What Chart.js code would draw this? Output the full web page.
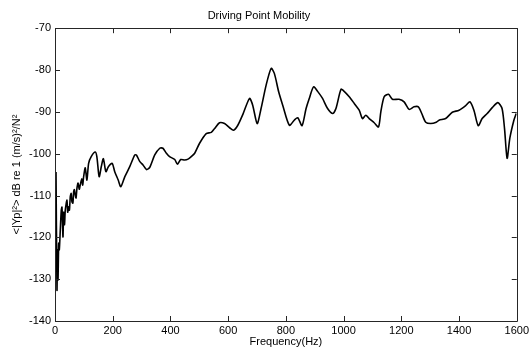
<!DOCTYPE html>
<html>
<head>
<meta charset="utf-8">
<script src="https://cdn.jsdelivr.net/npm/chart.js@4.4.1/dist/chart.umd.min.js"></script>
<style>
html,body{margin:0;padding:0;background:#fff;}
#wrap{width:532px;height:349px;}
</style>
</head>
<body>
<div id="wrap"><canvas id="c" width="532" height="349"></canvas></div>
<script>
// Frequency (Hz)
const freqHz = [
  3.5, 6.9, 8.6, 10.4, 12.8, 14.9, 18.3, 21.8, 24.2, 27.6, 30, 33, 35.6, 41.5, 44, 47.3, 50, 52.9, 56, 58.8,
  62, 64.6, 67, 70.2, 73, 76, 80, 84, 87.4, 93, 96, 99.2, 104.7, 110.6, 116.5, 125.5, 139.3, 145, 153, 160.7,
  167.6, 176.3, 185, 198, 207, 219, 228, 242, 259, 276.5, 282, 294, 305, 317, 328, 345.6, 363, 374, 386, 397,
  415, 424, 435.5, 449, 461, 472, 484, 501, 524, 541.5, 553, 570, 587.5, 605, 618.6, 633.5, 651, 674, 685, 700.5,
  714, 731.6, 749, 760, 775, 789, 812, 829, 841, 856, 870, 881, 896, 910, 927, 944.5, 962, 973.5, 991, 1002,
  1019.5, 1037, 1054, 1065.5, 1077, 1088.6, 1106, 1121, 1129, 1140.5, 1155.5, 1169, 1192, 1209.6, 1227, 1244, 1259, 1270.7, 1284.6, 1302,
  1321, 1330.6, 1353.7, 1376.6, 1400, 1423, 1437.7, 1451.5, 1466.4, 1480, 1497.5, 1515, 1534.5, 1549, 1557.6, 1566.6, 1576, 1590, 1598
];
// <|Yp|^2> in dB re 1 (m/s)^2/N^2
const mobilityDb = [
  -104.4, -132.6, -123, -130.2, -121.4, -123, -118.3, -113.5, -112.8, -119.9, -114, -117, -113.5, -111.1, -114, -112.7, -113.5, -110.3, -109.5, -111.5,
  -111.8, -109.1, -108.6, -109.9, -110.6, -108.3, -107, -108.5, -107.5, -106, -107.5, -105.5, -103.4, -106.3, -102.3, -100.7, -99.6, -100.7, -105.5, -103,
  -101.2, -104.3, -103.1, -102.3, -104.3, -106.3, -107.9, -105.5, -103.1, -100.3, -100.3, -101.9, -102.7, -103.8, -103.3, -100.3, -98.7, -98.7, -99.9, -100.7,
  -101.4, -102.5, -101.4, -101.5, -101.3, -100.7, -99.9, -97.5, -95.2, -94.9, -94, -92.6, -92.8, -93.8, -94.4, -93.2, -90.6, -86.8, -88.4, -92.8,
  -89.2, -83.6, -79.6, -80.8, -85.2, -88.4, -93.2, -92, -91.4, -93.3, -89.2, -86.8, -84, -85.1, -86.8, -89.2, -90.4, -89.2, -84.6, -85.1,
  -86.4, -88, -89.6, -91.6, -90.8, -91.6, -92.6, -93.6, -90, -86.4, -85.8, -87, -87, -87.6, -89.4, -88.8, -88.8, -90.4, -92.5, -92.8,
  -92.5, -92, -91.6, -90.1, -89.6, -88.5, -87.6, -89.6, -93.3, -91.6, -90.4, -89, -87.8, -89.2, -94, -101.1, -96.3, -92, -90.4
];
const xTicks = [0, 200, 400, 600, 800, 1000, 1200, 1400, 1600];
const yTicks = [-140, -130, -120, -110, -100, -90, -80, -70];

const titleText = 'Driving Point Mobility';
const xTitle = 'Frequency(Hz)';
const yTitle = '<|Yp|\u00B2> dB re 1 (m/s)\u00B2/N\u00B2';

const points = freqHz.map((f, i) => ({x: f, y: mobilityDb[i]}));
const FONT = 'Liberation Sans, Arial, Helvetica, sans-serif';
const AXIS_COLOR = '#262626';

const boxTicks = {
  id: 'boxTicks',
  afterDraw(chart) {
    const {ctx, chartArea: a, scales} = chart;
    const L = 5;
    ctx.save();
    ctx.strokeStyle = AXIS_COLOR;
    ctx.lineWidth = 1;
    ctx.beginPath();
    ctx.rect(Math.round(a.left) + 0.5, Math.round(a.top) + 0.5,
             Math.round(a.right - a.left), Math.round(a.bottom - a.top));
    scales.x.ticks.forEach(t => {
      const px = Math.round(scales.x.getPixelForValue(t.value)) + 0.5;
      ctx.moveTo(px, a.bottom); ctx.lineTo(px, a.bottom - L);
      ctx.moveTo(px, a.top); ctx.lineTo(px, a.top + L);
    });
    scales.y.ticks.forEach(t => {
      const py = Math.round(scales.y.getPixelForValue(t.value)) + 0.5;
      ctx.moveTo(a.left, py); ctx.lineTo(a.left + L, py);
      ctx.moveTo(a.right, py); ctx.lineTo(a.right - L, py);
    });
    ctx.stroke();
    ctx.restore();
  }
};

new Chart(document.getElementById('c'), {
  type: 'scatter',
  data: {
    datasets: [{
      data: points,
      showLine: true,
      borderColor: '#000',
      borderWidth: 1.6,
      pointRadius: 0,
      tension: 0.25,
      fill: false
    }]
  },
  options: {
    responsive: false,
    animation: false,
    devicePixelRatio: 1,
    layout: {padding: {left: 0, right: 14, top: 0, bottom: 0}},
    plugins: {
      legend: {display: false},
      tooltip: {enabled: false},
      title: {
        display: true,
        text: titleText,
        color: '#000',
        font: {family: FONT, size: 11, weight: 'normal', lineHeight: 1.2},
        padding: {top: 9, bottom: 6}
      }
    },
    scales: {
      x: {
        type: 'linear',
        min: 0, max: 1600,
        afterBuildTicks: s => { s.ticks = xTicks.map(v => ({value: v})); },
        afterFit: s => { s.height = 28; },
        grid: {display: false, drawTicks: false},
        border: {display: false},
        ticks: {color: '#000', font: {family: FONT, size: 11}, padding: 3, maxRotation: 0, autoSkip: false,
                callback: v => String(v)},
        title: {display: true, text: xTitle, color: '#000', font: {family: FONT, size: 11, lineHeight: 1.2}, padding: {top: 0, bottom: 0}}
      },
      y: {
        type: 'linear',
        min: -140, max: -70,
        afterBuildTicks: s => { s.ticks = yTicks.map(v => ({value: v})); },
        afterFit: s => { s.width = 55; },
        grid: {display: false, drawTicks: false},
        border: {display: false},
        ticks: {color: '#000', font: {family: FONT, size: 11}, padding: 4, autoSkip: false,
                callback: v => String(v)},
        title: {display: true, text: yTitle, color: '#000', font: {family: FONT, size: 11, lineHeight: 1.2}, padding: {top: 10, bottom: 0}}
      }
    }
  },
  plugins: [boxTicks]
});
</script>
</body>
</html>
